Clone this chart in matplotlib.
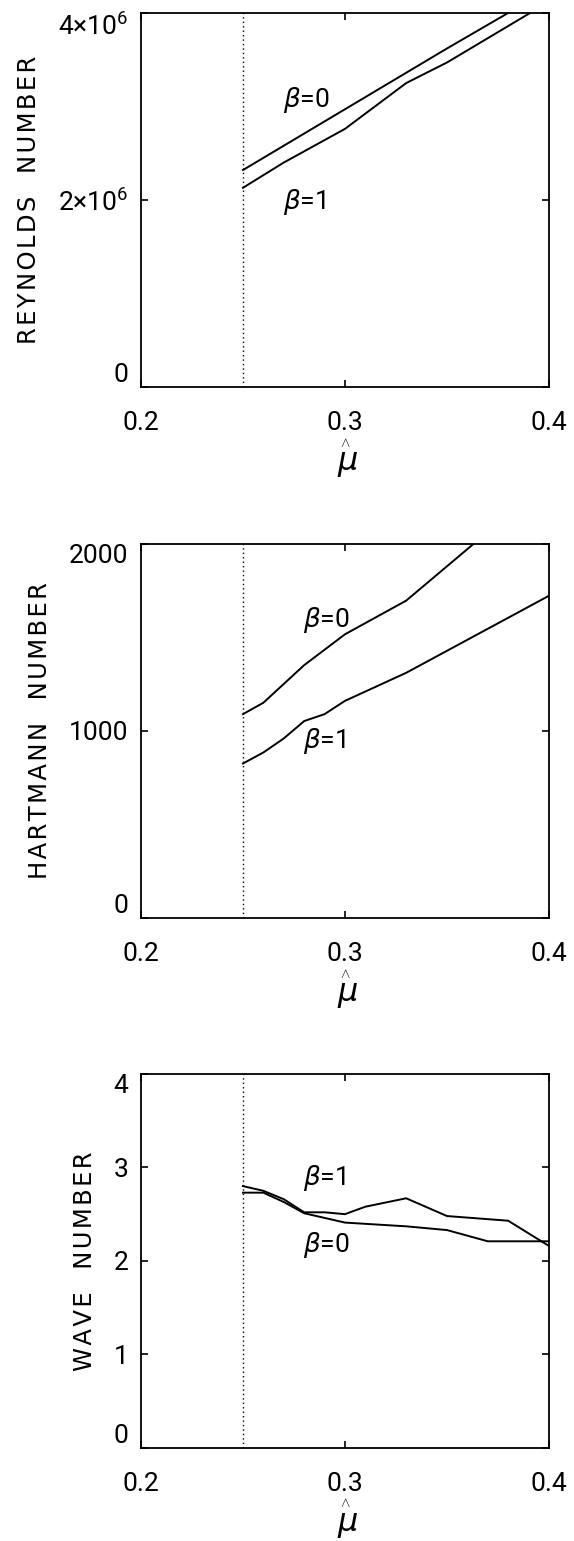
import matplotlib
matplotlib.use("Agg")
import matplotlib.pyplot as plt
from matplotlib.ticker import FixedLocator

plt.rcParams['font.family'] = ['Roboto', 'DejaVu Sans']
plt.rcParams['mathtext.fontset'] = 'custom'
plt.rcParams['mathtext.rm'] = 'Roboto'
plt.rcParams['mathtext.it'] = 'DejaVu Sans:italic'
plt.rcParams['mathtext.default'] = 'it'

# critical mu_hat (Rayleigh limit)
mu_limit = 0.25

# Reynolds number
re_mu_b0 = [0.25, 0.28, 0.30, 0.33, 0.35, 0.38, 0.40]
re_b0 = [2.32e6, 2.71e6, 2.97e6, 3.36e6, 3.62e6, 4.00e6, 4.26e6]
re_mu_b1 = [0.25, 0.27, 0.30, 0.33, 0.35, 0.40]
re_b1 = [2.13e6, 2.40e6, 2.76e6, 3.25e6, 3.47e6, 4.12e6]

# Hartmann number
ha_mu_b0 = [0.25, 0.26, 0.28, 0.30, 0.33, 0.40]
ha_b0 = [1090, 1151, 1352, 1517, 1697, 2340]
ha_mu_b1 = [0.25, 0.26, 0.27, 0.28, 0.29, 0.30, 0.33, 0.40]
ha_b1 = [826, 885, 960, 1053, 1090, 1161, 1311, 1723]

# Wave number
wn_mu_b1 = [0.25, 0.26, 0.27, 0.28, 0.29, 0.30, 0.31, 0.33, 0.35, 0.38, 0.40]
wn_b1 = [2.80, 2.75, 2.66, 2.52, 2.52, 2.50, 2.58, 2.67, 2.48, 2.43, 2.16]
wn_mu_b0 = [0.25, 0.26, 0.27, 0.28, 0.30, 0.33, 0.35, 0.37, 0.40]
wn_b0 = [2.73, 2.73, 2.63, 2.51, 2.41, 2.37, 2.33, 2.21, 2.21]

x_ticks = [0.2, 0.3, 0.4]
x_ticklabels = ['0.2', '0.3', '0.4']


def spaced(s):
    """Letter-spaced axis title."""
    return '\u200a'.join(s)


panels = [
    dict(ylabel='REYNOLDS  NUMBER', ylim=(0, 4e6), yticks=[0, 2e6, 4e6],
         yticklabels=['0', '2\u00d710$\\mathrm{^{6}}$', '4\u00d710$\\mathrm{^{6}}$'],
         curves=[(re_mu_b0, re_b0), (re_mu_b1, re_b1)],
         labels=[('$\\beta$=0', 0.2696, 3.07e6), ('$\\beta$=1', 0.2696, 1.98e6)],
         bottom=0.7489),
    dict(ylabel='HARTMANN  NUMBER', ylim=(0, 2000), yticks=[0, 1000, 2000],
         yticklabels=['0', '1000', '2000'],
         curves=[(ha_mu_b0, ha_b0), (ha_mu_b1, ha_b1)],
         labels=[('$\\beta$=0', 0.2794, 1594), ('$\\beta$=1', 0.2794, 946)],
         bottom=0.4043),
    dict(ylabel='WAVE  NUMBER', ylim=(0, 4), yticks=[0, 1, 2, 3, 4],
         yticklabels=['0', '1', '2', '3', '4'],
         curves=[(wn_mu_b0, wn_b0), (wn_mu_b1, wn_b1)],
         labels=[('$\\beta$=1', 0.2794, 2.885), ('$\\beta$=0', 0.2794, 2.17)],
         bottom=0.0604),
]

fig = plt.figure(figsize=(5.74, 15.41), dpi=100)
FS = 19

for p in panels:
    ax = fig.add_axes([0.2456, p['bottom'], 0.7108, 0.2427])
    for mu, val in p['curves']:
        ax.plot(mu, val, color='black', lw=1.4, solid_joinstyle='miter')
    ax.axvline(mu_limit, color='black', lw=1.0, linestyle=(0, (1, 2.2)))
    ax.set_xlim(0.2, 0.4)
    ax.set_ylim(*p['ylim'])
    ax.xaxis.set_major_locator(FixedLocator(x_ticks))
    ax.set_xticklabels(x_ticklabels)
    ax.yaxis.set_major_locator(FixedLocator(p['yticks']))
    ax.set_yticklabels(p['yticklabels'])
    ax.tick_params(direction='in', length=5, width=1.2, top=True, right=True,
                   labelsize=FS, colors='black')
    ax.tick_params(axis='x', pad=17)
    ax.tick_params(axis='y', pad=9)
    ylabs = ax.get_yticklabels()
    ylabs[0].set_verticalalignment('bottom')
    ylabs[-1].set_verticalalignment('top')
    for s in ax.spines.values():
        s.set_linewidth(1.3)
    ax.set_ylabel(spaced(p['ylabel']), fontsize=17.5, labelpad=12,
                  family=['DejaVu Sans'])
    for txt, x, y in p['labels']:
        ax.text(x, y, txt, fontsize=FS, ha='left', va='center')
    ax.annotate('$\\wedge$', xy=(0.5, 0), xycoords='axes fraction',
                xytext=(0, -40), textcoords='offset points',
                ha='center', va='center', fontsize=10)
    ax.annotate('$\\mu$', xy=(0.5, 0), xycoords='axes fraction',
                xytext=(2, -56), textcoords='offset points',
                ha='center', va='center', fontsize=23)

fig.savefig('out.png', dpi=100)
